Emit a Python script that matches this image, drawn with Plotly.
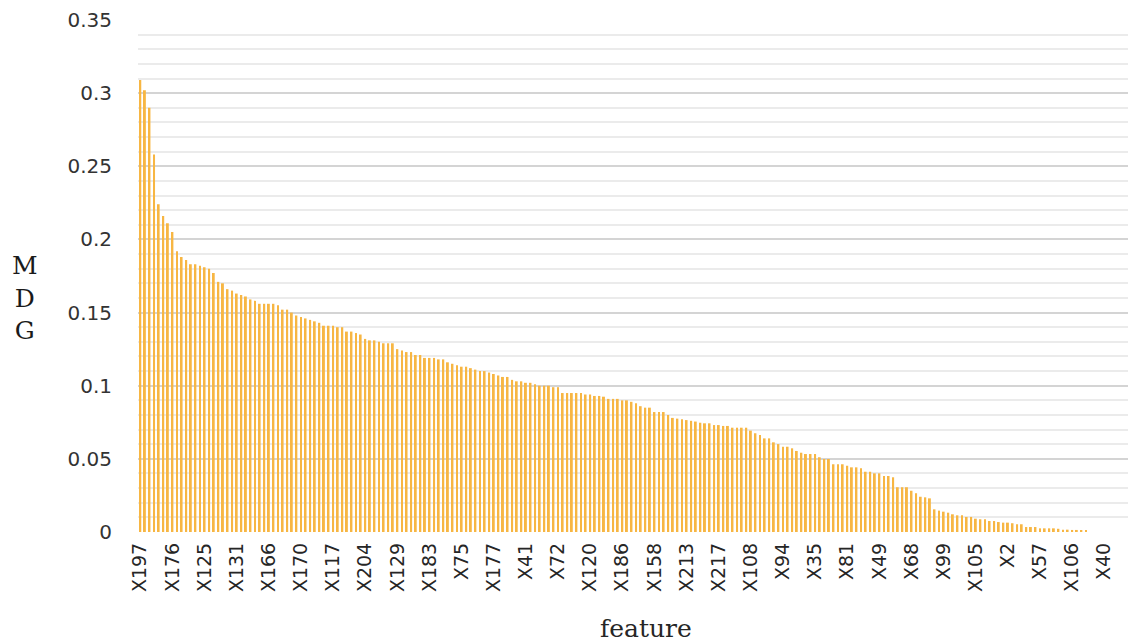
import plotly.graph_objects as go

# Mean decrease in Gini (MDG) per feature, sorted descending (217 features)
mdg = [
    0.309, 0.302, 0.290, 0.258, 0.224, 0.216, 0.211, 0.205, 0.192, 0.188,
    0.186, 0.183, 0.183, 0.182, 0.181, 0.180, 0.177, 0.171, 0.170, 0.166,
    0.165, 0.163, 0.162, 0.161, 0.159, 0.158, 0.156, 0.156, 0.156, 0.156,
    0.155, 0.152, 0.152, 0.150, 0.148, 0.147, 0.146, 0.145, 0.144, 0.143,
    0.141, 0.141, 0.141, 0.140, 0.140, 0.137, 0.137, 0.136, 0.135, 0.132,
    0.131, 0.131, 0.130, 0.129, 0.129, 0.129, 0.125, 0.124, 0.123, 0.123,
    0.121, 0.121, 0.119, 0.119, 0.119, 0.118, 0.118, 0.116, 0.115, 0.114,
    0.113, 0.113, 0.112, 0.111, 0.110, 0.110, 0.109, 0.108, 0.107, 0.106,
    0.106, 0.104, 0.103, 0.103, 0.102, 0.102, 0.101, 0.100, 0.100, 0.100,
    0.099, 0.099, 0.095, 0.095, 0.095, 0.095, 0.095, 0.094, 0.094, 0.093,
    0.093, 0.0925, 0.091, 0.091, 0.091, 0.090, 0.090, 0.089, 0.088, 0.086,
    0.085, 0.085, 0.082, 0.082, 0.082, 0.080, 0.078, 0.0775, 0.077, 0.0765,
    0.076, 0.0755, 0.0747, 0.0743, 0.0743, 0.0731, 0.0731, 0.0725, 0.0725, 0.0713,
    0.0713, 0.0713, 0.0713, 0.0693, 0.0675, 0.0663, 0.064, 0.064, 0.0613, 0.0601,
    0.0583, 0.0583, 0.0572, 0.0554, 0.0542, 0.0533, 0.0533, 0.0533, 0.0511, 0.0499,
    0.0499, 0.0463, 0.0463, 0.0463, 0.0453, 0.0442, 0.0442, 0.0435, 0.0412, 0.0412,
    0.0401, 0.0401, 0.0383, 0.0383, 0.0374, 0.0306, 0.0306, 0.0306, 0.0282, 0.0265,
    0.0241, 0.0237, 0.023, 0.0155, 0.0146, 0.0139, 0.0132, 0.0121, 0.0114, 0.0114,
    0.0103, 0.0103, 0.0091, 0.0087, 0.0087, 0.0075, 0.0075, 0.0068, 0.0064, 0.0064,
    0.006, 0.0053, 0.0053, 0.0034, 0.0034, 0.0034, 0.0025, 0.0025, 0.0025, 0.0025,
    0.0022, 0.0016, 0.0016, 0.0014, 0.0014, 0.0013, 0.0012, 0.0, 0.0, 0.0,
    0.0, 0.0, 0.0, 0.0, 0.0, 0.0, 0.0,
]

# feature labels shown on the axis (every 7th feature in rank order)
tick_labels = [
    "X197", "X176", "X125", "X131", "X166", "X170", "X117", "X204", "X129",
    "X183", "X75", "X177", "X41", "X72", "X120", "X186", "X158", "X213",
    "X217", "X108", "X94", "X35", "X81", "X49", "X68", "X99", "X105", "X2",
    "X57", "X106", "X40",
]
label_step = 7

y_ticks = [0, 0.05, 0.1, 0.15, 0.2, 0.25, 0.3, 0.35]
y_tick_text = ["0", "0.05", "0.1", "0.15", "0.2", "0.25", "0.3", "0.35"]

rank = list(range(len(mdg)))
tick_positions = [i * label_step for i in range(len(tick_labels))]

fig = go.Figure(
    go.Bar(
        x=rank,
        y=mdg,
        marker=dict(color="#F7B643", line=dict(width=0)),
        width=0.42,
    )
)

fig.update_layout(
    width=1136,
    height=643,
    margin=dict(l=138, r=0, t=20, b=111, autoexpand=False),
    paper_bgcolor="white",
    plot_bgcolor="white",
    showlegend=False,
)

fig.update_xaxes(
    range=[-0.5, len(mdg) - 0.1],
    tickmode="array",
    tickvals=tick_positions,
    ticktext=tick_labels,
    tickangle=-90,
    tickfont=dict(family="DejaVu Sans", size=19, color="#262626"),
    showgrid=False,
    zeroline=False,
    showline=False,
    ticks="",
    ticklabelstandoff=6,
    automargin=False,
)

fig.update_yaxes(
    range=[0, 0.35],
    tickmode="array",
    tickvals=y_ticks,
    ticktext=y_tick_text,
    tickfont=dict(family="DejaVu Sans", size=20, color="#333333"),
    showgrid=True,
    gridcolor="#D4D4D4",
    gridwidth=2,
    minor=dict(dtick=0.01, tick0=0, showgrid=True, gridcolor="#EBEBEB", gridwidth=2),
    zeroline=False,
    showline=False,
    ticks="",
    ticklabelstandoff=25,
    automargin=False,
)

fig.add_annotation(
    text="M<br>D<br>G",
    xref="paper", yref="paper",
    x=-0.113, y=0.457,
    xanchor="center", yanchor="middle",
    showarrow=False,
    align="center",
    font=dict(family="DejaVu Serif", size=25, color="#1a1a1a"),
)

fig.add_annotation(
    text="feature",
    xref="paper", yref="paper",
    x=0.509, y=-0.1875,
    xanchor="center", yanchor="middle",
    showarrow=False,
    font=dict(family="DejaVu Serif", size=25, color="#262626"),
)

fig.write_html(
    "out.html",
    config={"displayModeBar": False},
    post_script="document.body.style.margin='0';document.body.style.overflow='hidden';",
)
